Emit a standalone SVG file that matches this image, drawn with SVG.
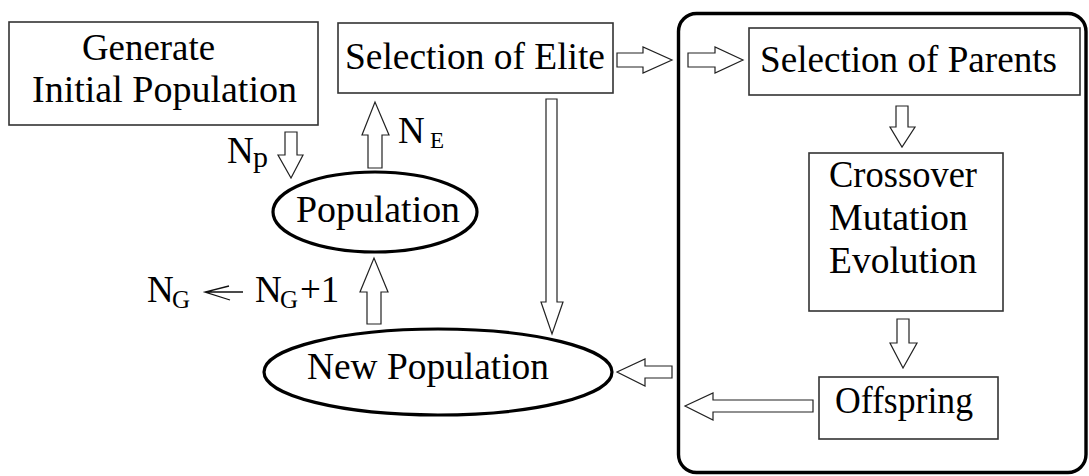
<svg xmlns="http://www.w3.org/2000/svg" width="1089" height="476" viewBox="0 0 1089 476">
<style>
text{font-family:'Liberation Serif','Noto Serif','DejaVu Serif','FreeSerif','Nimbus Roman','Tinos','Times New Roman',Times,serif;font-size:37px;fill:#000}
.box{fill:#fff;stroke:#333;stroke-width:1.6}
.ell{fill:#fff;stroke:#000;stroke-width:3.2}
.arr{fill:#fff;stroke:#222;stroke-width:1.2;stroke-linejoin:miter}
.sub{font-size:25px}
.thin{fill:none;stroke:#111;stroke-width:1.3}
</style>
<rect width="1089" height="476" fill="#fff"/>
<g id="container">
<rect x="678.5" y="13.5" width="407.5" height="459" rx="18" ry="18" fill="none" stroke="#000" stroke-width="3.4"/>
</g>
<g id="generate">
<rect class="box" x="9" y="22" width="309" height="103"/>
<text x="82" y="60" textLength="133" lengthAdjust="spacingAndGlyphs">Generate</text>
<text x="32" y="102" textLength="265" lengthAdjust="spacingAndGlyphs">Initial  Population</text>
</g>
<g id="elite">
<rect class="box" x="338" y="23" width="275" height="70"/>
<text x="345" y="69" textLength="260" lengthAdjust="spacingAndGlyphs">Selection of Elite</text>
</g>
<g id="parents">
<rect class="box" x="749" y="28" width="331" height="67"/>
<text x="760" y="72" textLength="297" lengthAdjust="spacingAndGlyphs">Selection of Parents</text>
</g>
<g id="operators">
<rect class="box" x="809" y="153" width="194" height="158"/>
<text x="829" y="187" textLength="148" lengthAdjust="spacingAndGlyphs">Crossover</text>
<text x="829" y="230" textLength="139" lengthAdjust="spacingAndGlyphs">Mutation</text>
<text x="829" y="273" textLength="148" lengthAdjust="spacingAndGlyphs">Evolution</text>
</g>
<g id="offspring">
<rect class="box" x="819" y="377" width="179" height="62"/>
<text x="835" y="413" textLength="138" lengthAdjust="spacingAndGlyphs">Offspring</text>
</g>
<g id="population">
<ellipse class="ell" cx="375" cy="212" rx="102" ry="40"/>
<text x="296" y="222" textLength="164" lengthAdjust="spacingAndGlyphs">Population</text>
</g>
<g id="newpopulation">
<ellipse class="ell" cx="438" cy="372" rx="174" ry="43"/>
<text x="307" y="379" textLength="242" lengthAdjust="spacingAndGlyphs">New Population</text>
</g>
<g id="labels">
<text x="227" y="163">N<tspan font-size="30px" x="253" y="167">p</tspan></text>
<text x="398" y="143">N<tspan font-size="23px" x="430" y="148">E</tspan></text>
<text x="147" y="302">N<tspan class="sub" x="172" y="308">G</tspan></text>
<text x="255" y="302">N<tspan class="sub" x="280" y="308">G</tspan><tspan x="300" y="302">+1</tspan></text>
</g>
<g id="connectors">
<polygon class="arr" points="617,53 643,53 643,47 672,60 643,73 643,67 617,67"/>
<polygon class="arr" points="688,53 715,53 715,47 743,60 715,73 715,67 688,67"/>
<polygon class="arr" points="896,106 908,106 908,127 915,127 902,147 890,127 896,127"/>
<polygon class="arr" points="897,319 909,319 909,343 917,343 903,368 890,343 897,343"/>
<polygon class="arr" points="285,132 297,132 297,155 303,155 291,178 278,155 285,155"/>
<polygon class="arr" points="368,168 382,168 382,135 389,135 375,102 362,135 368,135"/>
<polygon class="arr" points="367,324 381,324 381,292 388,292 374,258 360,292 367,292"/>
<polygon class="arr" points="546,99 557,99 557,302 563,302 552,334 541,302 546,302"/>
<polygon class="arr" points="672,366 645,366 645,359 617,372 645,386 645,378 672,378"/>
<polygon class="arr" points="813,400 713,400 713,393 685,406 713,420 713,412 813,412"/>
<path class="thin" d="M243,292 H205 M229,286 L205,292 L230,300"/>
</g>
</svg>
